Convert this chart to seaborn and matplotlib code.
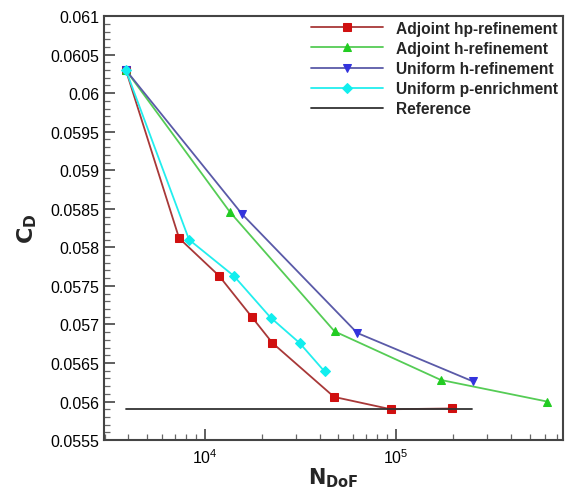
import numpy as np
import pandas as pd
import matplotlib
matplotlib.use("Agg")
import matplotlib.pyplot as plt
import seaborn as sns
from matplotlib.ticker import MultipleLocator, LogLocator

sns.set_theme(style="ticks")
plt.rcParams['font.family'] = ['Liberation Sans', 'DejaVu Sans']

# Data
hp_ndof = [3880, 7360, 11920, 17630, 22640, 47550, 94200, 197800]
hp_cd = [0.06030, 0.05812, 0.05763, 0.05710, 0.05676, 0.05606, 0.05590, 0.05591]

h_ndof = [3880, 13560, 47850, 171900, 618000]
h_cd = [0.06030, 0.05846, 0.05691, 0.05628, 0.05600]

uh_ndof = [3880, 15730, 62800, 253700]
uh_cd = [0.06030, 0.05843, 0.05689, 0.05626]

up_ndof = [3880, 8300, 14230, 22130, 31400, 42400]
up_cd = [0.06030, 0.05810, 0.05763, 0.05709, 0.05676, 0.05639]

ref_ndof = [3900, 251000]
ref_cd = [0.05590, 0.05590]

labels = ["Adjoint hp-refinement", "Adjoint h-refinement", "Uniform h-refinement",
          "Uniform p-enrichment", "Reference"]

fig = plt.figure(figsize=(5.65, 4.89), dpi=100)
ax = fig.add_axes([0.184, 0.098, 0.812, 0.867])

styles = [
    (hp_ndof, hp_cd, labels[0], "#A83838", "#D01010", "s", 5.5),
    (h_ndof, h_cd, labels[1], "#55CC55", "#22CC22", "^", 6),
    (uh_ndof, uh_cd, labels[2], "#5A5AA8", "#3333DD", "v", 6),
    (up_ndof, up_cd, labels[3], "#22EEEE", "#11EEEE", "D", 5.5),
]
for xs, ys, lab, lc, mc, mk, ms in styles:
    df = pd.DataFrame({"N": xs, "CD": ys})
    sns.lineplot(data=df, x="N", y="CD", ax=ax, color=lc, marker=mk,
                 markersize=ms, markerfacecolor=mc, markeredgecolor=mc,
                 linewidth=1.3, label=lab, sort=False)

df = pd.DataFrame({"N": ref_ndof, "CD": ref_cd})
sns.lineplot(data=df, x="N", y="CD", ax=ax, color="#333333", linewidth=1.3,
             label=labels[4], sort=False)

ax.set_xscale("log")
ax.set_xlim(2980, 746000)
ax.set_ylim(0.0555, 0.061)
ax.yaxis.set_major_locator(MultipleLocator(0.0005))
ax.yaxis.set_minor_locator(MultipleLocator(0.0001))
ax.yaxis.set_major_formatter(matplotlib.ticker.FuncFormatter(lambda v, p: f"{v:.4f}".rstrip('0')))
ax.xaxis.set_major_locator(LogLocator(base=10, numticks=10))
ax.xaxis.set_minor_locator(LogLocator(base=10, subs=np.arange(2, 10), numticks=20))
ax.xaxis.set_minor_formatter(matplotlib.ticker.NullFormatter())

ax.tick_params(which="major", direction="in", length=8, width=1.2, color="#444444",
               labelsize=11.5, labelcolor="black")
ax.tick_params(which="minor", direction="in", length=4, width=0.9, color="#666666")
ax.tick_params(axis="x", which="major", pad=5)
for s in ax.spines.values():
    s.set_color("#444444")
    s.set_linewidth(1.5)

ax.set_xlabel(r"$\mathbf{N}_{\mathbf{DoF}}$", fontsize=15, labelpad=0)
ax.set_ylabel(r"$\mathbf{C}_{\mathbf{D}}$", fontsize=16, labelpad=8)

leg = ax.legend(loc="upper right", bbox_to_anchor=(1.0, 1.0), borderaxespad=0,
                borderpad=0.3, frameon=False,
                prop={"weight": "bold", "size": 11.2}, handlelength=4.6,
                labelspacing=0.33, handletextpad=0.85)

fig.savefig("out.png", dpi=100)
